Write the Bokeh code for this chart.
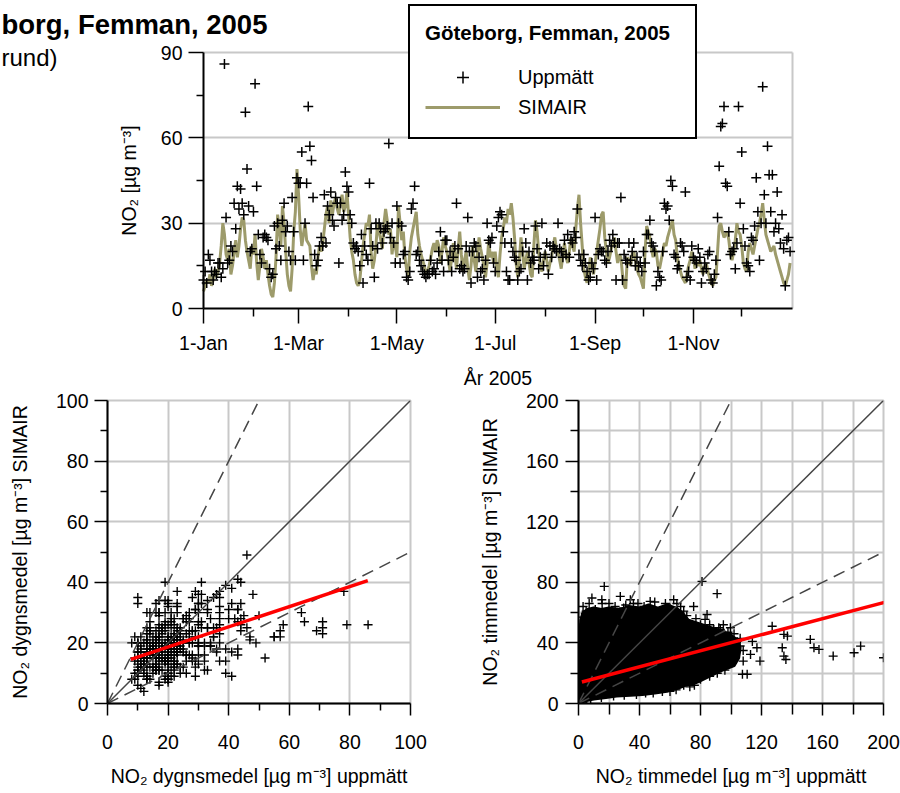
import numpy as np
from bokeh.plotting import figure
from bokeh.layouts import column, row
from bokeh.models import Range1d, FixedTicker, Label, Legend, LegendItem, Grid
from bokeh.embed import file_html
from bokeh.resources import INLINE

FONT = "Liberation Sans"
OLIVE = "#9d9b6b"
GRID = "#c8c8c8"
REF = "#454545"

# ---------------- data ----------------
month_ticks = [0, 59, 120, 181, 243, 304]
month_labels = ["1-Jan", "1-Mar", "1-May", "1-Jul", "1-Sep", "1-Nov"]
month_minor = [31, 90, 151, 212, 273, 334]
year_end = 365.5
ts_yticks = [0, 30, 60, 90]
ts_yminor = [15, 45, 75]

# daily means 2005, day 0 = 1 Jan
measured_daily = [
    10, 13, 9, 19, 17, 13, 10, 13, 12, 16,
    16, 11, 14, 86, 32, 16, 17, 22, 20, 37,
    28, 43, 35, 42, 37, 33, 69, 49, 36, 20,
    21, 34, 79, 43, 26, 19, 16, 25, 26, 25,
    24, 14, 11, 12, 29, 21, 30, 22, 17, 31,
    37, 27, 29, 20, 17, 39, 27, 17, 46, 44,
    44, 55, 17, 30, 44, 71, 57, 52, 39, 19,
    15, 17, 22, 25, 22, 40, 23, 36, 33, 41,
    31, 29, 39, 37, 16, 37, 31, 33, 48, 43,
    41, 33, 30, 23, 21, 22, 20, 15, 26, 9,
    22, 19, 17, 44, 28, 22, 11, 30, 21, 30,
    28, 23, 27, 28, 29, 58, 25, 30, 23, 16,
    36, 30, 16, 29, 19, 20, 11, 10, 13, 35,
    37, 43, 19, 20, 17, 15, 13, 12, 11, 12,
    12, 17, 13, 14, 12, 16, 20, 27, 17, 13,
    24, 24, 17, 20, 13, 18, 22, 37, 21, 14,
    15, 13, 14, 22, 32, 20, 9, 20, 23, 22,
    11, 18, 13, 14, 10, 17, 30, 24, 23, 25,
    16, 13, 29, 32, 34, 33, 27, 23, 13, 10,
    10, 23, 20, 18, 17, 10, 13, 14, 20, 28,
    23, 10, 20, 16, 18, 17, 29, 21, 14, 18,
    30, 15, 19, 23, 12, 22, 18, 22, 21, 20,
    30, 21, 20, 18, 24, 19, 26, 18, 24, 23,
    27, 25, 35, 19, 17, 15, 19, 16, 13, 10,
    11, 16, 14, 32, 10, 19, 21, 20, 20, 17,
    16, 20, 24, 22, 26, 23, 10, 23, 23, 39,
    10, 19, 17, 16, 23, 17, 20, 23, 15, 18,
    15, 16, 13, 20, 16, 26, 26, 31, 23, 22,
    20, 8, 13, 11, 10, 20, 37, 35, 36, 31,
    45, 43, 19, 18, 14, 15, 23, 22, 20, 41,
    11, 13, 10, 22, 18, 17, 16, 21, 18, 9,
    13, 16, 14, 19, 20, 10, 9, 12, 17, 32,
    50, 64, 65, 71, 44, 43, 27, 19, 20, 21,
    14, 23, 71, 37, 55, 28, 22, 16, 15, 13,
    25, 24, 29, 46, 34, 17, 30, 78, 40, 30,
    57, 47, 34, 47, 27, 30, 41, 28, 23, 33,
    21, 8, 24, 25, 20,
]

simair_daily = [
    6, 8, 10, 9, 12, 8, 10, 14, 11, 13,
    16, 22, 30, 26, 19, 17, 21, 12, 15, 20,
    24, 18, 22, 28, 32, 31, 24, 20, 17, 14,
    22, 19, 26, 16, 10, 15, 21, 18, 14, 17,
    12, 8, 5, 4, 9, 18, 33, 28, 22, 36,
    30, 20, 12, 8, 6, 14, 27, 34, 49, 40,
    28, 22, 26, 30, 24, 23, 22, 15, 10, 14,
    12, 18, 22, 20, 23, 28, 33, 36, 30, 38,
    33, 37, 39, 35, 33, 37, 40, 34, 36, 41,
    33, 25, 20, 17, 12, 9, 8, 10, 16, 22,
    26, 30, 29, 33, 20, 14, 17, 22, 30, 27,
    24, 21, 30, 35, 31, 26, 28, 19, 24, 22,
    18, 36, 30, 24, 27, 18, 14, 11, 20, 25,
    28, 31, 34, 26, 22, 19, 17, 15, 12, 13,
    15, 18, 21, 23, 20, 24, 22, 16, 20, 25,
    22, 20, 17, 13, 18, 23, 19, 14, 21, 27,
    19, 13, 17, 20, 14, 10, 15, 22, 17, 13,
    19, 25, 21, 18, 15, 11, 16, 24, 18, 20,
    16, 20, 14, 11, 19, 25, 28, 32, 30, 35,
    33, 37, 32, 25, 16, 11, 17, 25, 20, 14,
    17, 20, 16, 12, 11, 22, 31, 27, 20, 15,
    13, 17, 20, 17, 13, 16, 18, 22, 25, 21,
    20, 17, 14, 19, 23, 18, 16, 20, 25, 22,
    20, 28, 35, 40, 30, 22, 14, 11, 9, 13,
    18, 15, 12, 16, 20, 24, 28, 33, 34, 25,
    20, 16, 18, 21, 23, 25, 20, 16, 19, 18,
    12, 8, 7, 18, 17, 15, 19, 20, 17, 14,
    12, 11, 9, 7, 20, 29, 27, 25, 21, 18,
    21, 20, 15, 14, 17, 20, 23, 22, 25, 27,
    29, 31, 26, 24, 18, 15, 13, 11, 10, 9,
    12, 15, 17, 20, 18, 14, 16, 15, 17, 14,
    12, 15, 16, 13, 11, 9, 8, 10, 11, 20,
    29, 30, 27, 25, 26, 27, 24, 19, 17, 20,
    24, 30, 27, 26, 22, 16, 14, 13, 20, 23,
    21, 19, 22, 25, 28, 30, 33, 37, 31, 26,
    24, 22, 20, 21, 22, 19, 17, 15, 13, 11,
    9, 8, 10, 12, 16,
]
day_of_year = list(range(len(measured_daily)))

# hourly scatter: outline of the saturated (solid black) cloud, measured x / SIMAIR y
hourly_dense_x = [0.8, 0.8, 1.5, 3, 6, 10, 15, 20, 27, 33, 40, 46, 52, 58, 64, 68, 72, 78, 84, 90,
                  96, 100, 104, 106, 105, 102, 97, 92, 88, 84, 80, 75, 70, 65, 58, 50, 42, 34, 25, 18,
                  10, 5, 2]
hourly_dense_y = [1, 40, 55, 60, 62, 63, 62, 63, 62, 64, 63, 65, 63, 65, 63, 60, 55, 53, 51, 49,
                  47, 45, 42, 37, 30, 25, 23, 21, 19, 17, 15, 13, 12, 10, 8, 7, 6, 5.5, 5, 4,
                  3, 2, 1]
# hourly points at the cloud edge and outliers
hourly_x = [16.9, 8.8, 15.3, 15.5, 27.4, 34, 36, 5, 29.6, 47, 53.7, 62.4, 64.5, 69, 75.5, 81, 90.9,
            84.3, 83, 88.7, 93, 95, 99.6, 104, 106, 108, 110.6, 107.5, 114, 117, 119, 112.8, 127,
            134.7, 137, 133.6, 134.7, 136, 152, 154.4, 157.7, 167, 180.7, 185, 200, 207,
            3, 7, 11, 20, 24, 31, 39, 43, 50, 57, 60, 67, 71, 77, 80, 86, 92, 98, 102,
            106, 103, 108, 100, 96, 91, 86, 80, 76, 73, 69, 64, 60, 55, 49, 44, 38, 30, 23, 15,
            8, 5, 3, 1, 1, 1, 2]
hourly_y = [77.3, 69.6, 68.5, 66, 70.7, 68.5, 66, 61, 63, 67.4, 61, 68.5, 66, 61, 64, 80.6, 72.5,
            58.7, 55.5, 48.8, 48.8, 52, 50, 41, 43, 28, 19.3, 19.3, 41, 36.8, 28, 32.4, 51,
            45.6, 44.5, 36.8, 31.3, 29, 42.3, 36.8, 35.7, 31.3, 33.5, 37.9, 30.2, 33.5,
            64, 66, 62, 66, 64, 65, 66, 64, 67, 66, 63, 64, 58, 56, 52, 52, 50, 47, 46,
            38, 33, 35, 27, 22, 20, 18, 16, 12, 11, 12, 9, 8, 8, 7, 7, 6, 5.5, 5, 4,
            3, 2, 1, 20, 35, 50, 57]

# fitted regression lines
daily_fit = dict(slope=0.3325, intercept=12.0, x0=7.7, x1=85.9)
hourly_fit = dict(slope=0.265, intercept=13.6, x0=2.2, x1=207.0)

daily_lim = 100
hourly_lim = 200

# ---------------- layout constants (pixels) ----------------
TOP_W, TOP_H = 900, 389
X_DAY0, X_END = 203, 792      # canvas x of 1 Jan and of year end
Y_ZERO, Y_TOP = 308, 52       # canvas y of 0 and 90
BOT_H = 403


def style_axis(ax, ticks, minor, major_out, minor_out, standoff, title=None, title_standoff=10,
               overrides=None):
    ax.ticker = FixedTicker(ticks=ticks, minor_ticks=minor)
    ax.axis_line_color = "black"
    ax.axis_line_width = 2
    ax.major_tick_line_color = "black"
    ax.major_tick_line_width = 1.5
    ax.minor_tick_line_color = "black"
    ax.minor_tick_line_width = 1.5
    ax.major_tick_in = 0
    ax.major_tick_out = major_out
    ax.minor_tick_in = 0
    ax.minor_tick_out = minor_out
    ax.major_label_standoff = standoff
    ax.major_label_text_font = FONT
    ax.major_label_text_font_size = "19.5px"
    ax.major_label_text_color = "black"
    if overrides:
        ax.major_label_overrides = overrides
    if title:
        ax.axis_label = title
        ax.axis_label_text_font = FONT
        ax.axis_label_text_font_size = "19.5px"
        ax.axis_label_text_font_style = "normal"
        ax.axis_label_text_color = "black"
        ax.axis_label_standoff = title_standoff


def grid_style(g, ticks):
    g.ticker = FixedTicker(ticks=ticks)
    g.grid_line_color = GRID
    g.grid_line_width = 2


# ---------------- top: time series ----------------
px_day = (X_END - X_DAY0) / year_end
px_unit = (Y_ZERO - Y_TOP) / ts_yticks[-1]
top = figure(width=TOP_W, height=TOP_H,
             x_range=Range1d(-X_DAY0 / px_day, (TOP_W - X_DAY0) / px_day),
             y_range=Range1d(-(TOP_H - Y_ZERO) / px_unit, Y_ZERO / px_unit),
             output_backend="svg", toolbar_location=None,
             min_border=0, min_border_left=0, min_border_right=0,
             min_border_top=0, min_border_bottom=0)
top.background_fill_color = "white"
top.border_fill_color = "white"
top.outline_line_color = None
top.xgrid.visible = False

has_cross = "cross_bounds" in Grid.properties()
if has_cross:
    grid_style(top.ygrid, ts_yticks[1:])
    top.ygrid.cross_bounds = (0, year_end)
else:
    top.ygrid.visible = False
    top.segment(x0=[0] * 3, x1=[year_end] * 3, y0=ts_yticks[1:], y1=ts_yticks[1:],
                line_color=GRID, line_width=2)
# grey right frame edge
top.segment(x0=[year_end], x1=[year_end], y0=[0], y1=[ts_yticks[-1]], line_color=GRID, line_width=2)

xa = top.xaxis[0]
xa.fixed_location = 0
xa.bounds = (0, year_end)
style_axis(xa, month_ticks, month_minor, 15, 8, 8, title="\u00c5r 2005", title_standoff=10,
           overrides={t: l for t, l in zip(month_ticks, month_labels)})
ya = top.yaxis[0]
ya.fixed_location = 0
ya.bounds = (0, ts_yticks[-1])
style_axis(ya, ts_yticks, ts_yminor, 15, 7, 6,
           title="NO\u2082 [\u00b5g m\u207b\u00b3]", title_standoff=18)

sim_r = top.line(day_of_year, simair_daily, line_color=OLIVE, line_width=3)
meas_r = top.scatter(day_of_year, measured_daily, marker="cross", size=10,
                     line_color="black", line_width=1.5)

legend = Legend(
    items=[LegendItem(label="Uppm\u00e4tt", renderers=[meas_r]),
           LegendItem(label="SIMAIR", renderers=[sim_r])],
    title="G\u00f6teborg, Femman, 2005", location=(408, TOP_H - 139),
    title_text_font=FONT, title_text_font_style="bold", title_text_font_size="20.5px",
    title_text_color="black", title_standoff=17,
    label_text_font=FONT, label_text_font_size="20px", label_text_color="black",
    glyph_width=75, glyph_height=30, label_standoff=18, label_width=162,
    spacing=0, padding=15, margin=0,
    border_line_color="black", border_line_width=2, border_line_alpha=1.0,
    background_fill_color="white", background_fill_alpha=1.0)
top.add_layout(legend)

top.add_layout(Label(x=1, y=TOP_H - 24, x_units="screen", y_units="screen",
                     text="borg, Femman, 2005", text_align="left", text_baseline="middle",
                     text_font=FONT, text_font_style="bold", text_font_size="27.5px",
                     text_color="black"))
top.add_layout(Label(x=1, y=TOP_H - 57, x_units="screen", y_units="screen",
                     text="rund)", text_align="left", text_baseline="middle",
                     text_font=FONT, text_font_size="24px", text_color="black"))


# ---------------- bottom scatter plots ----------------
def scatter_fig(w, bl, br, lim):
    p = figure(width=w, height=BOT_H, x_range=Range1d(0, lim), y_range=Range1d(0, lim),
               output_backend="svg", toolbar_location=None,
               min_border_left=bl, min_border_right=br, min_border_top=11, min_border_bottom=89)
    p.background_fill_color = "white"
    p.border_fill_color = "white"
    p.outline_line_color = GRID
    p.outline_line_width = 2
    return p


left = scatter_fig(450, 107, 40, daily_lim)
grid_style(left.xgrid, list(range(0, 101, 20)))
grid_style(left.ygrid, list(range(0, 101, 20)))
style_axis(left.xaxis[0], list(range(0, 101, 20)), list(range(10, 100, 20)), 12, 7, 19,
           title="NO\u2082 dygnsmedel [\u00b5g m\u207b\u00b3] uppm\u00e4tt", title_standoff=13)
style_axis(left.yaxis[0], list(range(0, 101, 20)), list(range(10, 100, 20)), 13, 7, 6,
           title="NO\u2082 dygnsmedel [\u00b5g m\u207b\u00b3] SIMAIR", title_standoff=22)

left.scatter(measured_daily, simair_daily, marker="cross", size=9, line_color="black", line_width=1.4)
left.line([0, daily_lim], [0, daily_lim], line_color=REF, line_width=1.5)
left.line([0, daily_lim / 2], [0, daily_lim], line_color=REF, line_width=1.5, line_dash="12 7")
left.line([0, daily_lim], [0, daily_lim / 2], line_color=REF, line_width=1.5, line_dash="12 7")
dfx = np.array([daily_fit["x0"], daily_fit["x1"]])
left.line(dfx, daily_fit["slope"] * dfx + daily_fit["intercept"], line_color="red", line_width=3.5)

right = scatter_fig(450, 128, 17, hourly_lim)
grid_style(right.xgrid, list(range(0, 201, 20)))
grid_style(right.ygrid, list(range(0, 201, 20)))
style_axis(right.xaxis[0], list(range(0, 201, 40)), list(range(20, 200, 40)), 12, 11, 19,
           title="NO\u2082 timmedel [\u00b5g m\u207b\u00b3] uppm\u00e4tt", title_standoff=13)
style_axis(right.yaxis[0], list(range(0, 201, 40)), list(range(20, 200, 40)), 13, 8, 7,
           title="NO\u2082 timmedel [\u00b5g m\u207b\u00b3] SIMAIR", title_standoff=22)

right.patch(hourly_dense_x, hourly_dense_y, fill_color="black", line_color="black", line_width=3)
right.scatter(hourly_x, hourly_y, marker="cross", size=9, line_color="black", line_width=1.4)
right.line([0, hourly_lim], [0, hourly_lim], line_color=REF, line_width=1.5)
right.line([0, hourly_lim / 2], [0, hourly_lim], line_color=REF, line_width=1.5, line_dash="12 7")
right.line([0, hourly_lim], [0, hourly_lim / 2], line_color=REF, line_width=1.5, line_dash="12 7")
hfx = np.array([hourly_fit["x0"], hourly_fit["x1"]])
right.line(hfx, hourly_fit["slope"] * hfx + hourly_fit["intercept"], line_color="red", line_width=3.5)

layout = column(top, row(left, right, spacing=0), spacing=0)
open("out.html", "w").write(file_html(layout, INLINE, title="NO2 Femman 2005"))
